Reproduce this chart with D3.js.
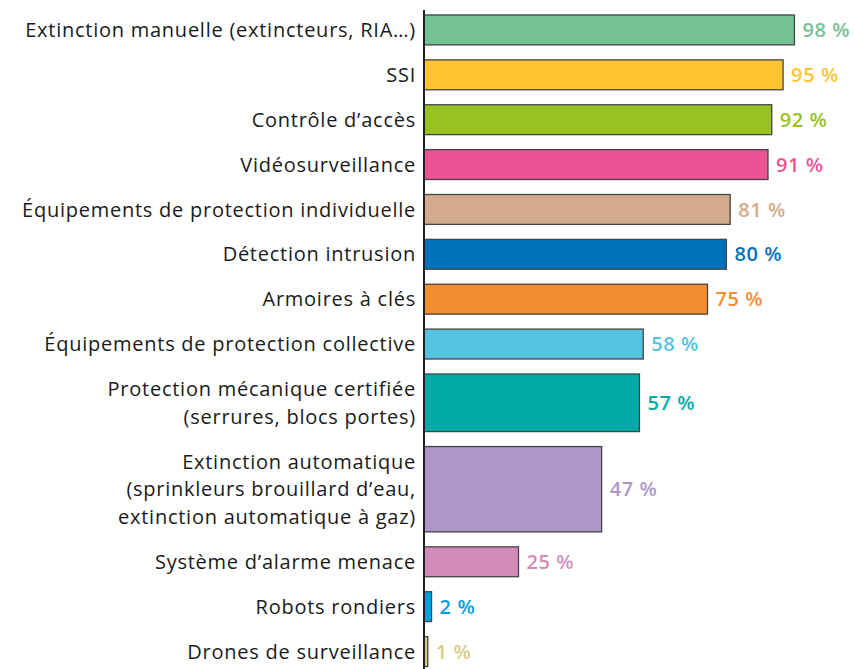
<!DOCTYPE html>
<html>
<head>
<meta charset="utf-8">
<script src="https://cdn.jsdelivr.net/npm/d3@7"></script>
<style>
	body { margin: 0; background: #fff; }
	#vis-div text { font-family: "Open Sans", "Noto Sans", sans-serif; }
</style>
</head>
<body>
<div id="vis-div"></div>
<script>
'use strict'

// one entry per bar, top to bottom
let categories = [
	["Extinction manuelle (extincteurs, RIA…)"],
	["SSI"],
	["Contrôle d’accès"],
	["Vidéosurveillance"],
	["Équipements de protection individuelle"],
	["Détection intrusion"],
	["Armoires à clés"],
	["Équipements de protection collective"],
	["Protection mécanique certifiée", "(serrures, blocs portes)"],
	["Extinction automatique", "(sprinkleurs brouillard d’eau,", "extinction automatique à gaz)"],
	["Système d’alarme menace"],
	["Robots rondiers"],
	["Drones de surveillance"]
]

let values = [98, 95, 92, 91, 81, 80, 75, 58, 57, 47, 25, 2, 1]

let colors = ["#74c194", "#fec432", "#97c21f", "#ea5394", "#d3ab8c", "#0072bc",
	"#f28e2f", "#55c2e2", "#00aba7", "#ae97c8", "#d38cba", "#009fe0", "#d6cc84"]


function renderBars(width, height, padding){

	let lineH = 27.7
	let rowGap = 0.62 // in "line" units, space added to every row

	// cumulative position of each row, in line units
	let offsets = []
	let acc = 0
	categories.forEach(function(c){
		offsets.push(acc)
		acc += c.length + rowGap
	})

	let svg = d3.select("#vis-div")
		.append("svg")
		.attr("width", width)
		.attr("height", height)

	let xScale = d3.scaleLinear().domain([0, 100]).range([padding.left, padding.left + 378])
	let yScale = d3.scaleLinear().domain([0, 1]).range([padding.top, padding.top + lineH])

	function barH(i){
		return yScale(categories[i].length + rowGap) - yScale(0) - 15
	}

	let rows = svg.selectAll(".row").data(values).enter().append("g")
		.attr("class", "row")
		.attr("transform", function(d, i){
			return "translate(0," + yScale(offsets[i]) + ")"
		})

	rows.append("rect")
		.attr("x", xScale(0))
		.attr("y", 0)
		.attr("width", function(d){ return xScale(d) - xScale(0) })
		.attr("height", function(d, i){ return barH(i) })
		.style("fill", function(d, i){ return colors[i] })
		.style("stroke", "#444")
		.style("stroke-width", 1.3)

	rows.append("text")
		.attr("x", function(d){ return xScale(d) + 8 })
		.attr("y", function(d, i){ return barH(i) / 2 })
		.attr("dy", "0.36em")
		.style("font-size", "20px")
		.style("font-weight", "600")
		.style("letter-spacing", "0.6px")
		.style("fill", function(d, i){ return colors[i] })
		.text(function(d){ return d + " %" })

	let lbl = rows.append("text")
		.attr("text-anchor", "end")
		.style("font-size", "20px")
		.style("letter-spacing", "0.75px")
		.style("fill", "#1a1a1a")

	lbl.selectAll("tspan").data(function(d, i){
		let n = categories[i].length
		let mid = barH(i) / 2
		return categories[i].map(function(t, k){
			return {t: t, y: mid + (k - (n - 1) / 2) * lineH}
		})
	}).enter()
	.append("tspan")
		.attr("x", padding.left - 8)
		.attr("y", function(d){ return d.y })
		.attr("dy", "0.36em")
		.text(function(d){ return d.t })

	// vertical axis line
	svg.append("line")
		.attr("x1", xScale(0)).attr("x2", xScale(0))
		.attr("y1", 10).attr("y2", height)
		.style("stroke", "#222")
		.style("stroke-width", 2)
}

renderBars(855, 669, {left: 424, top: 15})
</script>
</body>
</html>
